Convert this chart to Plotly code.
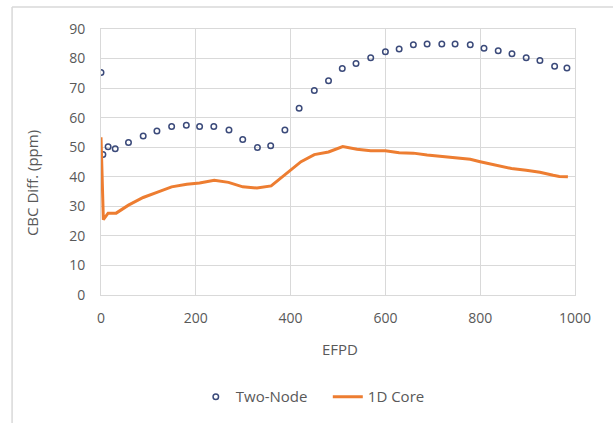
import plotly.graph_objects as go

# Two-Node (markers)
two_node_x = [0, 4, 15, 30, 58, 89, 118, 149, 180, 208, 238, 270, 299, 330, 358, 388,
              418, 450, 480, 509, 538, 569, 600, 629, 659, 688, 719, 747, 779, 808,
              838, 867, 897, 926, 957, 983]
two_node_y = [75.3, 47.5, 50.2, 49.5, 51.6, 53.8, 55.5, 57.0, 57.4, 57.0, 57.0, 55.8,
              52.6, 49.9, 50.5, 55.8, 63.2, 69.2, 72.5, 76.6, 78.3, 80.3, 82.3, 83.2,
              84.7, 84.9, 84.9, 84.9, 84.7, 83.5, 82.6, 81.6, 80.3, 79.3, 77.4, 76.8]

# 1D Core (line)
core_x = [0, 5, 15, 32, 58, 89, 118, 149, 181, 208, 239, 269, 299, 329, 359, 389,
          422, 450, 480, 510, 540, 569, 600, 629, 659, 688, 719, 749, 779, 800, 834,
          866, 897, 926, 954, 967, 985]
core_y = [53.4, 25.5, 27.7, 27.7, 30.4, 33.0, 34.7, 36.6, 37.5, 37.9, 38.8, 38.1,
          36.6, 36.2, 36.9, 40.8, 45.1, 47.5, 48.4, 50.2, 49.3, 48.8, 48.8, 48.1,
          48.0, 47.4, 46.9, 46.5, 45.9, 45.1, 43.8, 42.8, 42.2, 41.5, 40.5, 40.1, 40.0]

x_ticks = [0, 200, 400, 600, 800, 1000]
y_ticks = [0, 10, 20, 30, 40, 50, 60, 70, 80, 90]

FONT = "Open Sans"
TXT = "#595959"
GRID = "#d9d9d9"

fig = go.Figure()
fig.add_trace(go.Scatter(
    x=two_node_x, y=two_node_y, mode="markers", name="Two-Node",
    marker=dict(symbol="circle-open", size=5.5, color="#3b4a7a", line=dict(width=1.5)),
))
fig.add_trace(go.Scatter(
    x=core_x, y=core_y, mode="lines", name="1D Core",
    line=dict(color="#ED7D31", width=3),
))

fig.update_layout(
    width=613, height=423,
    margin=dict(l=101, r=37.5, t=29, b=128, autoexpand=False),
    paper_bgcolor="white", plot_bgcolor="white",
    font=dict(family=FONT, size=14, color=TXT),
    showlegend=True,
    legend=dict(orientation="h", x=0.2, xanchor="left", y=-0.383, yanchor="middle",
                entrywidth=87, entrywidthmode="pixels",
                font=dict(family=FONT, size=15, color=TXT), traceorder="normal"),
    shapes=[
        dict(type="line", xref="paper", yref="paper", x0=-0.1876, x1=1.09, y0=1.0827, y1=1.0827,
             line=dict(color=GRID, width=1.5)),
        dict(type="line", xref="paper", yref="paper", x0=-0.1876, x1=-0.1876, y0=1.0827, y1=-0.5,
             line=dict(color=GRID, width=1.5)),
    ],
    annotations=[
        dict(text="CBC Diff. (ppm)", xref="paper", yref="paper", x=-0.1454, y=0.421,
             textangle=-90, showarrow=False, xanchor="center", yanchor="middle",
             font=dict(family=FONT, size=15, color=TXT)),
        dict(text="EFPD", xref="paper", yref="paper", x=0.504, y=-0.203,
             showarrow=False, xanchor="center", yanchor="middle",
             font=dict(family=FONT, size=15, color=TXT)),
    ],
)
fig.update_xaxes(
    range=[0, 1000], tickvals=x_ticks, showgrid=True,
    gridcolor=GRID, gridwidth=1, zeroline=False, showline=True, linecolor=GRID, mirror=True,
    ticks="", ticklabelstandoff=10, tickfont=dict(size=14, color=TXT),
)
fig.update_yaxes(
    range=[0, 90], tickvals=y_ticks, showgrid=True,
    gridcolor=GRID, gridwidth=1, zeroline=False, showline=True, linecolor=GRID, mirror=True,
    ticks="", ticklabelstandoff=12, tickfont=dict(size=14, color=TXT),
)

fig.write_html("out.html", config={"displayModeBar": False},
               post_script="document.body.style.margin='0';")
